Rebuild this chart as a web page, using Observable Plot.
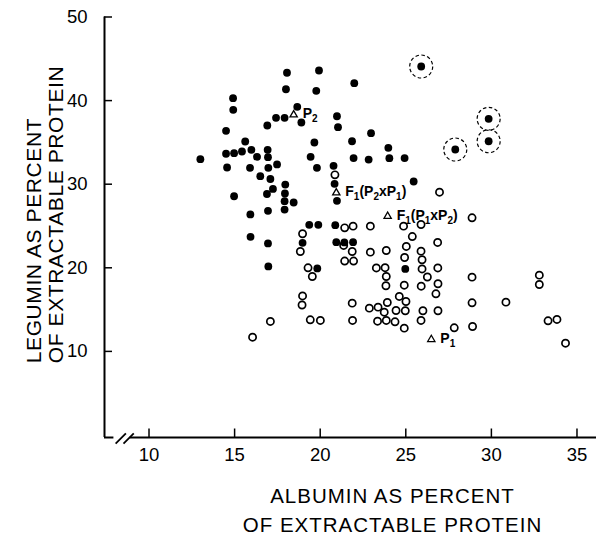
<!DOCTYPE html>
<html><head><meta charset="utf-8">
<script src="https://cdn.jsdelivr.net/npm/d3@7"></script>
<script src="https://cdn.jsdelivr.net/npm/@observablehq/plot@0.6"></script>
<style>body{margin:0;background:#fff}</style>
</head><body><div id="chart"></div>
<script>
// Filled circles (albumin %, legumin %)
const filledX = [18.06,19.93,18.0,19.77,14.91,14.92,18.66,17.42,17.92,18.9,16.91,14.5,15.62,19.66,14.5,14.97,15.43,15.98,16.93,13.0,16.31,16.95,19.44,14.56,15.9,16.97,17.48,19.81,16.5,17.09,17.96,17.24,16.89,17.94,14.97,17.92,18.45,17.92,15.92,16.95,19.36,19.89,15.93,18.97,16.95,16.97,19.83,21.99,20.98,21.04,22.97,21.86,23.98,21.95,22.83,24.04,24.93,20.78,20.84,20.98,25.46,20.88,20.94,21.41,21.92,24.97];
const filledY = [43.33,43.6,41.36,41.17,40.29,38.9,39.26,37.94,37.94,37.38,37.02,36.39,35.11,34.99,33.64,33.71,33.91,34.11,34.11,32.99,33.28,33.23,33.28,32.0,31.96,31.96,32.36,31.96,30.96,30.62,29.96,29.43,28.83,28.89,28.56,27.97,27.81,26.97,26.38,26.82,25.14,25.14,23.71,22.99,22.91,20.16,19.92,42.08,38.13,36.82,36.1,35.14,34.35,33.13,32.95,33.11,33.13,32.2,30.05,28.01,30.32,25.1,23.06,23.03,23.06,19.86];
// Filled circles ringed with a dashed circle
const circledX = [25.9,27.89,29.84,29.84];
const circledY = [44.08,34.15,37.82,35.14];
// Open circles
const openX = [20.86,26.97,18.97,18.84,19.29,19.54,18.97,18.94,17.09,19.42,20.01,16.05,21.43,21.92,22.93,24.87,25.89,25.38,21.37,21.87,22.93,23.86,25.03,26.86,25.89,24.93,21.43,21.95,25.95,23.28,23.79,23.86,23.84,25.95,26.87,26.26,26.88,24.91,25.9,26.76,21.87,24.62,25.01,23.92,22.87,23.38,23.74,24.43,24.97,26.0,26.88,21.89,23.35,23.86,24.37,24.91,25.89,27.83,28.87,28.87,32.8,32.8,28.87,30.85,28.9,33.31,33.83,34.33];
const openY = [31.12,29.04,24.07,21.95,20.0,18.96,16.63,15.55,13.58,13.78,13.7,11.7,24.78,24.98,24.98,24.98,25.18,23.74,22.67,21.95,21.87,22.07,22.55,23.03,21.99,21.23,20.81,20.81,20.96,19.98,20.01,18.96,17.85,19.86,19.98,18.9,18.09,17.92,17.8,16.89,15.77,16.57,15.97,15.85,15.17,15.29,14.69,14.89,14.86,14.86,14.86,13.7,13.61,13.7,13.54,12.78,13.7,12.82,25.98,18.88,19.12,18.0,15.81,15.89,12.98,13.66,13.82,10.98];
// Parents and F1 hybrids (open triangles)
const parentLabel = ["P2","F1(P2xP1)","F1(P1xP2)","P1"];
const parentX = [18.45,20.94,23.94,26.49];
const parentY = [38.3,28.97,26.17,11.43];
// Axis ticks
const xTicks = [10,15,20,25,30,35];
const yTicks = [10,20,30,40,50];
const xMin = 7.4, xMax = 36.14, yMin = -0.3, yMax = 50;
const axisBreak = [7.95, 8.9]; // gap in the x axis line
const breakSlashes = [8.35, 8.81];
const xTitle = "ALBUMIN AS PERCENT\nOF EXTRACTABLE PROTEIN";
const yTitle = "LEGUMIN AS PERCENT\nOF EXTRACTABLE PROTEIN";

const filled = filledX.map((x,i)=>({x, y: filledY[i]}));
const circled = circledX.map((x,i)=>({x, y: circledY[i]}));
const open = openX.map((x,i)=>({x, y: openY[i]}));
const parents = parentX.map((x,i)=>({x, y: parentY[i], label: parentLabel[i]}));
const xAxisSegs = [{x1: xMin, x2: axisBreak[0]}, {x1: axisBreak[1], x2: xMax}];

const font = "'Liberation Sans', Arial, Helvetica, sans-serif";

const plot = Plot.plot({
  width: 600, height: 536,
  marginLeft: 104, marginRight: 4, marginTop: 16.5, marginBottom: 99,
  x: {domain: [xMin, xMax], axis: null},
  y: {domain: [yMin, yMax], axis: null},
  style: {fontFamily: font, background: "#fff", color: "#000"},
  marks: [
    Plot.ruleX([xMin], {y1: yMin, y2: yMax, strokeWidth: 2}),
    Plot.ruleY(xAxisSegs, {y: yMin, x1: "x1", x2: "x2", strokeWidth: 2}),
    Plot.link(breakSlashes, {x1: d => d - 0.3, x2: d => d + 0.3, y1: yMin - 0.72, y2: yMin + 0.5, strokeWidth: 1.8}),
    Plot.tickX(xTicks, {x: d => d, insetTop: 412, strokeWidth: 1.5}),
    Plot.tickY(yTicks, {y: d => d, insetRight: 484, strokeWidth: 1.5}),
    Plot.text(xTicks, {x: d => d, text: d => String(d), frameAnchor: "bottom", lineAnchor: "top", dy: 10, fontSize: 18.5}),
    Plot.text(yTicks, {y: d => d, text: d => String(d), frameAnchor: "left", textAnchor: "end", dx: -17, fontSize: 18.5}),
    Plot.text([xTitle], {text: d => d, frameAnchor: "bottom", lineAnchor: "top", dx: 42, dy: 45, fontSize: 20.5, lineHeight: 1.4}),
    Plot.text([yTitle], {text: d => d, frameAnchor: "left", rotate: -90, textAnchor: "start", lineAnchor: "middle", dx: -60, dy: 136, fontSize: 21, lineHeight: 1.05}),
    Plot.dot(circled, {x: "x", y: "y", r: 11.5, fill: "none", stroke: "black", strokeWidth: 1.2, strokeDasharray: "3.5,2.5"}),
    Plot.dot(open, {x: "x", y: "y", r: 3.6, fill: "white", stroke: "black", strokeWidth: 1.7}),
    Plot.dot(filled, {x: "x", y: "y", r: 3.9, fill: "black"}),
    Plot.dot(circled, {x: "x", y: "y", r: 3.9, fill: "black"}),
    Plot.dot(parents, {x: "x", y: "y", symbol: "triangle", r: 2.7, fill: "white", stroke: "black", strokeWidth: 1.3}),
    Plot.text(parents, {x: "x", y: "y", text: "label", textAnchor: "start", dx: 9, dy: -1, fontSize: 14, fontWeight: "bold"})
  ]
});

// Subscript digits in the parent/F1 labels; spacing on axis titles
d3.select(plot).selectAll("text").each(function() {
  const t = d3.select(this);
  const s = this.textContent;
  if (/^[PF]\d/.test(s) && this.children.length === 0) {
    t.text(null);
    let sub = false;
    for (const run of s.match(/\d+|\D+/g)) {
      const isSub = /\d/.test(run);
      const ts = t.append("tspan").text(run);
      if (isSub) { ts.attr("font-size", 10); if (!sub) ts.attr("dy", 4); sub = true; }
      else { if (sub) ts.attr("dy", -4); sub = false; }
    }
  }
  if (/PERCENT/.test(s)) t.style("letter-spacing", /ALBUMIN/.test(s) ? "1px" : "0.6px");
});

document.getElementById("chart").append(plot);
</script>
</body></html>
